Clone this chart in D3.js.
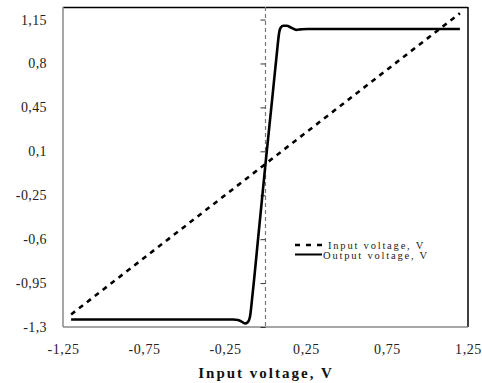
<!DOCTYPE html>
<html>
<head>
<meta charset="utf-8">
<script src="https://cdn.jsdelivr.net/npm/d3@7"></script>
<style>
  body { margin: 0; background: #fff; }
  text { font-family: "Liberation Serif", "DejaVu Serif", serif; }
</style>
</head>
<body>
<svg id="chart" width="482" height="383"></svg>
<script>
// tick values and labels (comma decimal, as in the original)
var xTicks = [-1.25, -0.75, -0.25, 0.25, 0.75, 1.25];
var xTickLabels = ["-1,25", "-0,75", "-0,25", "0,25", "0,75", "1,25"];
var yTicks = [-1.3, -0.95, -0.6, -0.25, 0.1, 0.45, 0.8, 1.15];
var yTickLabels = ["-1,3", "-0,95", "-0,6", "-0,25", "0,1", "0,45", "0,8", "1,15"];

// input voltage (dashed) - straight line
var inX = [-1.2, 1.2];
var inY = [-1.2, 1.2];

// output voltage (solid)
var outX = [-1.2, -1.0, -0.8, -0.6, -0.4, -0.2, -0.17, -0.15, -0.127, -0.11, -0.096,
            -0.08, -0.04, 0, 0.04, 0.07, 0.085, 0.095, 0.11, 0.13, 0.16, 0.19, 0.22,
            0.26, 0.4, 0.6, 0.8, 1.0, 1.2];
var outY = [-1.24, -1.24, -1.24, -1.24, -1.24, -1.24, -1.245, -1.255, -1.272, -1.262, -1.22,
            -1.04, -0.52, 0.0, 0.5, 0.88, 1.05, 1.088, 1.1, 1.1, 1.085, 1.068, 1.072,
            1.075, 1.075, 1.075, 1.075, 1.075, 1.075];

// plot area edges (window.top is reserved, so no plain "top" here)
var pLeft = 63, pRight = 468, pTop = 7, pBottom = 327;

var svg = d3.select("#chart");

var x = d3.scaleLinear().domain([-1.25, 1.25]).range([pLeft, pRight]);
var y = d3.scaleLinear().domain([-1.3, 1.25]).range([pBottom, pTop]);

// plot frame
svg.append("line").attr("x1", pLeft).attr("x2", pRight).attr("y1", pTop + 0.5).attr("y2", pTop + 0.5)
    .attr("stroke", "#000").attr("stroke-width", 1.5);
svg.append("line").attr("x1", pRight).attr("x2", pRight).attr("y1", pTop).attr("y2", pBottom)
    .attr("stroke", "#000").attr("stroke-width", 1.5);
svg.append("line").attr("x1", pLeft).attr("x2", pLeft).attr("y1", pTop).attr("y2", pBottom)
    .attr("stroke", "#888").attr("stroke-width", 1.5);
svg.append("line").attr("x1", pLeft).attr("x2", pRight).attr("y1", pBottom).attr("y2", pBottom)
    .attr("stroke", "#888").attr("stroke-width", 1.5);

// y tick labels on the left
var yAxis = svg.append("g")
    .attr("transform", "translate(" + (pLeft - 16) + ",0)")
    .call(d3.axisLeft(y).tickValues(yTicks).tickSize(0)
        .tickFormat(function(d, i) { return yTickLabels[i]; }));
yAxis.select(".domain").remove();
yAxis.selectAll("text")
    .attr("x", 0)
    .style("font-family", "'Liberation Serif', serif")
    .style("font-size", "14px")
    .style("letter-spacing", "0.4px")
    .attr("fill", "#222");

// x tick labels at the bottom
var xAxis = svg.append("g")
    .attr("transform", "translate(0," + (pBottom + 14) + ")")
    .call(d3.axisBottom(x).tickValues(xTicks).tickSize(0)
        .tickFormat(function(d, i) { return xTickLabels[i]; }));
xAxis.select(".domain").remove();
xAxis.selectAll("text")
    .style("font-family", "'Liberation Serif', serif")
    .style("font-size", "14px")
    .style("letter-spacing", "0.6px")
    .attr("fill", "#222");

// the vertical axis drawn at x = 0 (dashed, with small ticks)
var zeroAxis = svg.append("g")
    .attr("transform", "translate(" + x(0) + ",0)")
    .call(d3.axisLeft(y).tickValues(yTicks).tickSize(5).tickFormat(""));
zeroAxis.select(".domain")
    .attr("d", "M0," + pTop + "V" + pBottom)
    .attr("stroke", "#777")
    .attr("stroke-width", 1.2)
    .attr("stroke-dasharray", "4,3");
zeroAxis.selectAll(".tick line").attr("stroke", "#333");

var line = d3.line()
    .x(function(d) { return x(d[0]); })
    .y(function(d) { return y(d[1]); })
    .curve(d3.curveMonotoneX);

svg.append("path")
    .datum(inX.map(function(v, i) { return [v, inY[i]]; }))
    .attr("d", line)
    .attr("fill", "none")
    .attr("stroke", "#000")
    .attr("stroke-width", 2.6)
    .attr("stroke-dasharray", "5,5");

svg.append("path")
    .datum(outX.map(function(v, i) { return [v, outY[i]]; }))
    .attr("d", line)
    .attr("fill", "none")
    .attr("stroke", "#000")
    .attr("stroke-width", 2.6)
    .attr("stroke-linejoin", "round");

// legend
var lg = svg.append("g");
lg.append("line").attr("x1", 295).attr("x2", 323).attr("y1", 245).attr("y2", 245)
    .attr("stroke", "#000").attr("stroke-width", 2.4).attr("stroke-dasharray", "5,6");
lg.append("text").attr("x", 328).attr("y", 248.5)
    .style("font-size", "10.5px").style("letter-spacing", "1.8px").attr("fill", "#222")
    .text("Input voltage, V");
lg.append("line").attr("x1", 295).attr("x2", 322).attr("y1", 254.5).attr("y2", 254.5)
    .attr("stroke", "#000").attr("stroke-width", 2);
lg.append("text").attr("x", 323).attr("y", 259)
    .style("font-size", "10.5px").style("letter-spacing", "1.8px").attr("fill", "#222")
    .text("Output voltage, V");

// axis title
svg.append("text")
    .attr("x", 266).attr("y", 378)
    .attr("text-anchor", "middle")
    .style("font-size", "15px").style("font-weight", "bold").style("letter-spacing", "2px")
    .attr("fill", "#111")
    .text("Input voltage, V");
</script>
</body>
</html>
